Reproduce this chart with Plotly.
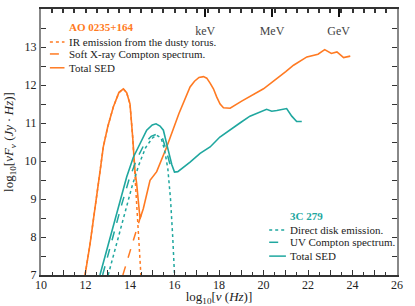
import plotly.graph_objects as go

# ---------------- data ----------------
# AO 0235+164
ao_ir_x = [11.98, 12.2, 12.62, 12.8, 13.0, 13.25, 13.5, 13.7, 13.85, 14.0, 14.12, 14.2, 14.3, 14.4, 14.49]
ao_ir_y = [7.0, 7.8, 9.58, 10.37, 10.9, 11.42, 11.8, 11.9, 11.8, 11.5, 10.63, 9.9, 8.9, 7.9, 7.0]

ao_cx_x = [13.68, 14.15, 14.45, 14.6]
ao_cx_y = [7.0, 7.9, 8.48, 8.78]

ao_tot_x = [11.98, 12.2, 12.62, 12.8, 13.0, 13.25, 13.5, 13.7, 13.85, 14.0, 14.12, 14.22, 14.3, 14.45,
            14.6, 14.9, 15.2, 15.65, 16.2, 16.7, 16.9, 17.1, 17.3, 17.45, 17.6, 17.75, 17.9, 18.05,
            18.2, 18.5, 19.0, 20.0, 21.0, 21.35, 21.95, 22.45, 22.75, 23.05, 23.3, 23.6, 23.9]
ao_tot_y = [7.0, 7.8, 9.58, 10.37, 10.9, 11.42, 11.8, 11.9, 11.8, 11.5, 10.63, 9.76, 9.4, 8.48,
            8.75, 9.49, 9.72, 10.37, 11.25, 11.95, 12.1, 12.2, 12.22, 12.18, 12.05, 11.9, 11.68, 11.5,
            11.4, 11.39, 11.57, 11.9, 12.35, 12.52, 12.74, 12.81, 12.93, 12.83, 12.87, 12.72, 12.76]

# 3C 279
c3_disk_x = [13.02, 13.4, 13.8, 14.1, 14.4, 14.7, 15.0, 15.2, 15.4, 15.55, 15.7, 15.82, 15.92, 16.0]
c3_disk_y = [7.0, 7.85, 8.7, 9.35, 9.9, 10.35, 10.6, 10.68, 10.6, 10.3, 9.8, 9.0, 8.0, 7.0]

c3_uv_x = [12.77, 13.2, 13.6, 13.95, 14.3, 14.65, 14.95, 15.27, 15.45, 15.62, 15.78, 15.95]
c3_uv_y = [7.0, 7.95, 8.8, 9.5, 10.05, 10.45, 10.65, 10.72, 10.62, 10.3, 9.95, 9.75]

c3_tot_x = [12.65, 13.0, 13.4, 13.85, 14.15, 14.45, 14.75, 15.0, 15.17, 15.35, 15.5, 15.72, 15.88,
            16.0, 16.15, 16.7, 17.15, 17.6, 18.04, 18.94, 19.39, 20.14, 20.37, 20.6, 21.04, 21.27,
            21.49, 21.72]
c3_tot_y = [7.0, 7.75, 8.6, 9.58, 10.1, 10.46, 10.81, 10.95, 10.98, 10.92, 10.81, 10.28, 9.9,
            9.71, 9.72, 9.97, 10.2, 10.37, 10.63, 11.0, 11.18, 11.36, 11.31, 11.33, 11.38, 11.18,
            11.04, 11.04]

x_ticks = list(range(10, 27))
x_ticktext = [str(v) if v % 2 == 0 else "" for v in x_ticks]
energy_ticks = [17.38, 20.38, 23.38]
energy_labels = ["keV", "MeV", "GeV"]

ORANGE = "#ff7a22"
TEAL = "#1fa79f"
FONT = "Liberation Serif, Times New Roman, serif"

fig = go.Figure()
fig.add_trace(go.Scatter(x=ao_ir_x, y=ao_ir_y, mode="lines", line=dict(color=ORANGE, width=1.5, dash="dot"), showlegend=False))
fig.add_trace(go.Scatter(x=ao_cx_x, y=ao_cx_y, mode="lines", line=dict(color=ORANGE, width=1.5, dash="dash"), showlegend=False))
fig.add_trace(go.Scatter(x=ao_tot_x, y=ao_tot_y, mode="lines", line=dict(color=ORANGE, width=1.6), showlegend=False))
fig.add_trace(go.Scatter(x=c3_disk_x, y=c3_disk_y, mode="lines", line=dict(color=TEAL, width=1.5, dash="dot"), showlegend=False))
fig.add_trace(go.Scatter(x=c3_uv_x, y=c3_uv_y, mode="lines", line=dict(color=TEAL, width=1.5, dash="dash"), showlegend=False))
fig.add_trace(go.Scatter(x=c3_tot_x, y=c3_tot_y, mode="lines", line=dict(color=TEAL, width=1.6), showlegend=False))
# empty trace to carry the top energy axis
fig.add_trace(go.Scatter(x=[], y=[], xaxis="x2", showlegend=False))

fig.update_layout(
    width=415, height=306,
    margin=dict(l=41, r=18, t=9, b=31, autoexpand=False),
    paper_bgcolor="white", plot_bgcolor="white",
    font=dict(family=FONT, size=12, color="#222"),
    xaxis=dict(range=[10, 26], tickvals=x_ticks, ticktext=x_ticktext, ticks="inside", ticklen=5,
               tickcolor="#333", showline=True, linecolor="#333", linewidth=1.5, showgrid=False,
               zeroline=False, automargin=False, ticklabelstandoff=-2,
               minor=dict(dtick=0.5, tick0=10, ticks="inside", ticklen=3, tickcolor="#333"),
               title=dict(text="log<sub>10</sub>[<i>ν</i> (<i>Hz</i>)]", font=dict(size=13, family=FONT), standoff=0),
               tickfont=dict(size=12, family=FONT)),
    xaxis2=dict(range=[10, 26], overlaying="x", side="top", anchor="y", tickvals=energy_ticks,
                ticktext=energy_labels, ticks="inside", ticklen=8, tickwidth=2, tickcolor="#111",
                ticklabelposition="inside", ticklabelstandoff=9, showline=True, linecolor="#333",
                linewidth=1.5, showgrid=False, zeroline=False, automargin=False,
                minor=dict(dtick=0.5, tick0=10, ticks="inside", ticklen=4, tickcolor="#333"),
                tickfont=dict(size=12, family=FONT)),
    yaxis=dict(range=[7, 14], dtick=1, ticks="inside", ticklen=5, tickcolor="#333", showline=True,
               linecolor="#888", linewidth=2, mirror="allticks", showgrid=False, zeroline=False,
               automargin=False,
               minor=dict(dtick=0.5, tick0=7, ticks="inside", ticklen=3, tickcolor="#333"),
               title=dict(text="log<sub>10</sub>[<i>νF<sub>ν</sub></i> (<i>Jy · Hz</i>)]", font=dict(size=13, family=FONT), standoff=8),
               tickfont=dict(size=12, family=FONT)),
)

# ---- legend blocks (annotations + sample lines) ----
def legend_block(title, color, title_xy, text_x, sample_x, ys, labels, styles):
    fig.add_annotation(x=title_xy[0], y=title_xy[1], xref="paper", yref="paper", text="<b>" + title + "</b>",
                       showarrow=False, xanchor="left", yanchor="middle", font=dict(size=11, color=color, family=FONT))
    for y, lab, st in zip(ys, labels, styles):
        fig.add_shape(type="line", xref="paper", yref="paper", x0=sample_x[0], x1=sample_x[1], y0=y, y1=y,
                      line=dict(color=color, width=1.5, dash=st))
        fig.add_annotation(x=text_x, y=y, xref="paper", yref="paper", text=lab, showarrow=False,
                           xanchor="left", yanchor="middle", font=dict(size=11, color="#222", family=FONT))

legend_block("AO 0235+164", ORANGE, (0.072, 0.932), 0.072, (0.025, 0.066),
             [0.876, 0.831, 0.779],
             ["IR emission from the dusty torus.", "Soft X-ray Compton spectrum.", "Total SED"],
             ["dot", "dash", "solid"])
legend_block("3C 279", TEAL, (0.695, 0.223), 0.695, (0.641, 0.688),
             [0.169, 0.123, 0.071],
             ["Direct disk emission.", "UV Compton spectrum.", "Total SED"],
             ["dot", "dash", "solid"])

fig.write_html("out.html", config={"displayModeBar": False},
               post_script="document.body.style.margin='0';document.body.style.overflow='hidden';")
